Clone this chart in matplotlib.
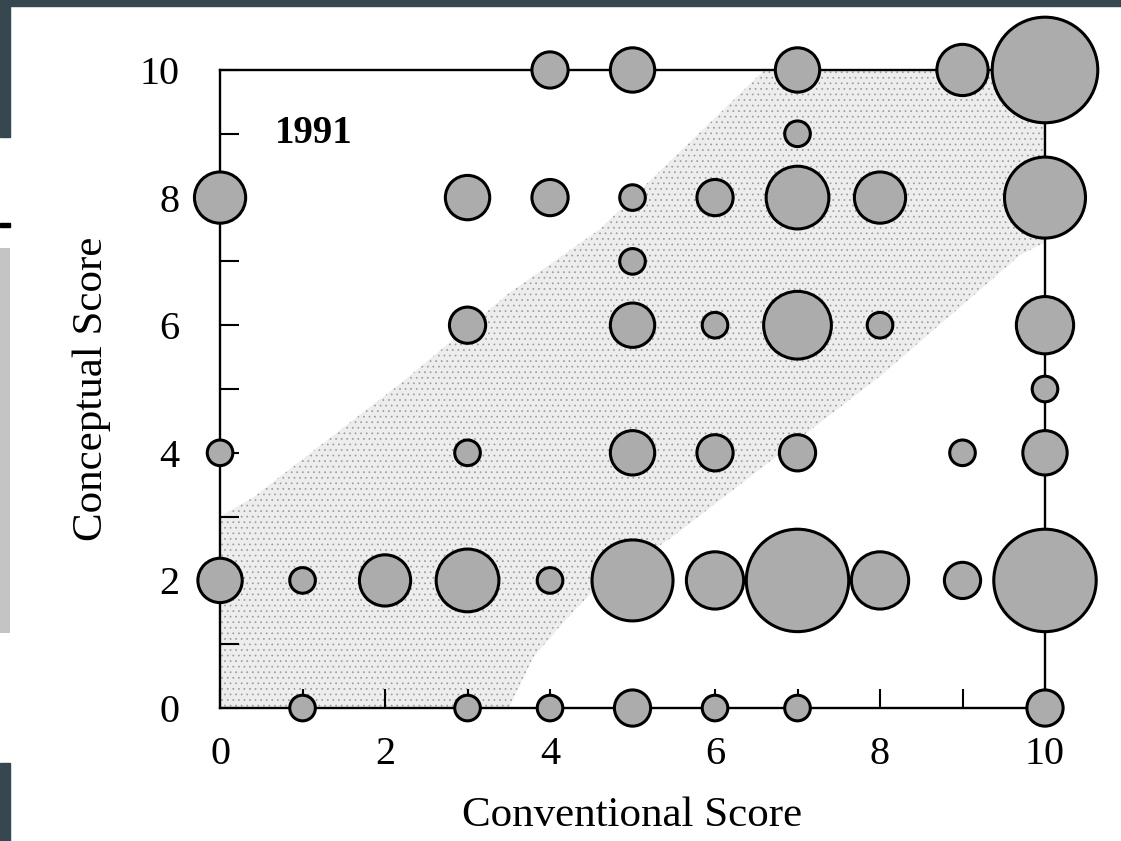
import matplotlib.pyplot as plt
from matplotlib.patches import Rectangle

plt.rcParams['font.family'] = ['Liberation Serif', 'DejaVu Serif']
plt.rcParams['hatch.linewidth'] = 0.5

# one bubble per (conventional, conceptual) pair, area ~ number of students
conv = [4, 5, 7, 9, 10,
        7,
        0, 3, 4, 5, 6, 7, 8, 10,
        5,
        3, 5, 6, 7, 8, 10,
        10,
        0, 3, 5, 6, 7, 9, 10,
        0, 1, 2, 3, 4, 5, 6, 7, 8, 9, 10,
        1, 3, 4, 5, 6, 7, 10]
conc = [10, 10, 10, 10, 10,
        9,
        8, 8, 8, 8, 8, 8, 8, 8,
        7,
        6, 6, 6, 6, 6, 6,
        5,
        4, 4, 4, 4, 4, 4, 4,
        2, 2, 2, 2, 2, 2, 2, 2, 2, 2, 2,
        0, 0, 0, 0, 0, 0, 0]
count = [2, 3, 3, 4, 17,
         1,
         4, 3, 2, 1, 2, 6, 4, 10,
         1,
         2, 3, 1, 7, 1, 5,
         1,
         1, 1, 3, 2, 2, 1, 3,
         3, 1, 4, 6, 1, 10, 5, 16, 5, 2, 16,
         1, 1, 1, 2, 1, 1, 2]

# outline of the shaded diagonal band
band_x = [0, 0, 0.4, 2.2, 3.5, 4.6, 6.6, 10, 10, 9.7, 8.0, 6.3, 5.5, 4.5, 4.2, 3.8, 3.5]
band_y = [0, 3, 3.3, 5.1, 6.5, 7.5, 10, 10, 7.3, 7.1, 5.2, 3.5, 2.7, 1.8, 1.4, 0.8, 0]

fig = plt.figure(figsize=(11.21, 8.41), dpi=100)
ax = fig.add_axes([0.1963, 0.1581, 0.7359, 0.7587])

# page edges from the scan
dark = '#37474f'
fig.patches.append(Rectangle((0, 1 - 6/841), 1, 6/841, transform=fig.transFigure, color=dark))
fig.patches.append(Rectangle((0, 1 - 137/841), 10/1121, 137/841, transform=fig.transFigure, color=dark))
fig.patches.append(Rectangle((0, 0), 10/1121, 78/841, transform=fig.transFigure, color=dark))
fig.patches.append(Rectangle((0, 1 - 633/841), 10/1121, 385/841, transform=fig.transFigure,
                             facecolor='#c4c4c4', edgecolor='none'))
fig.patches.append(Rectangle((0, 1 - 227/841), 10/1121, 4/841, transform=fig.transFigure, color='k'))

# stippled band
ax.fill(band_x, band_y, facecolor='#ededed', edgecolor='#9a9a9a', hatch='...',
        linewidth=0, zorder=0)

ax.scatter(conv, conc, s=[340 * c for c in count], facecolor='#acacac',
           edgecolor='k', linewidth=2.2, zorder=3, clip_on=False)

ax.set_xlim(0, 10)
ax.set_ylim(0, 10)
ax.set_xticks([0, 2, 4, 6, 8, 10])
ax.set_yticks([0, 2, 4, 6, 8, 10])
ax.set_xticks([1, 3, 5, 7, 9], minor=True)
ax.set_yticks([1, 3, 5, 7, 9], minor=True)
ax.tick_params(which='both', direction='in', length=14, width=1.5,
               top=False, right=False, labelsize=29)
ax.tick_params(axis='x', pad=20)
ax.tick_params(axis='y', pad=29)
for sp in ax.spines.values():
    sp.set_linewidth(1.7)

ax.set_xlabel('Conventional Score', fontsize=31)
ax.set_ylabel('Conceptual Score', fontsize=31)
ax.xaxis.set_label_coords(0.5, -0.138)
ax.yaxis.set_label_coords(-0.132, 0.5)

ax.text(0.067, 0.9, '1991', transform=ax.transAxes, fontsize=28,
        fontweight='bold', ha='left', va='center')

fig.savefig('out.png', dpi=100)
